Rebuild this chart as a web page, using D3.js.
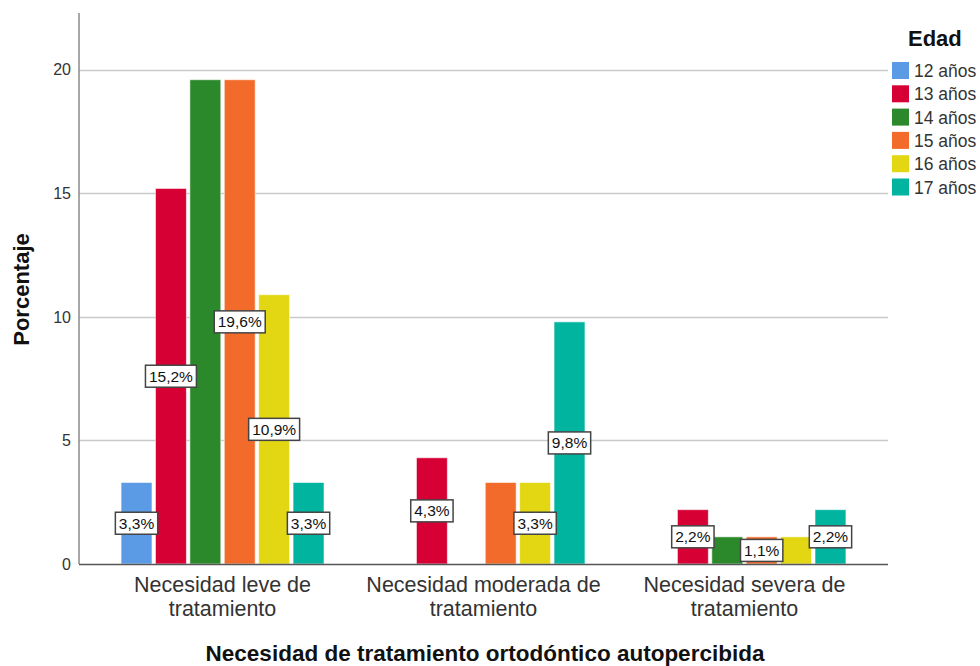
<!DOCTYPE html>
<html>
<head>
<meta charset="utf-8">
<script src="https://cdn.jsdelivr.net/npm/d3@7"></script>
<style>
  body { margin: 0; background: #fff; }
  text { font-family: "Liberation Sans", Arial, sans-serif; }
</style>
</head>
<body>
<svg id="chart"></svg>
<script>
var width = 980;
var height = 666;

var margin = {
    top: 13,
    right: 92,
    bottom: 102,
    left: 79
};

var chartBottom = height - margin.bottom;
var chartRight = width - margin.right;

// data
var categories = ["Necesidad leve de tratamiento", "Necesidad moderada de tratamiento", "Necesidad severa de tratamiento"];
var categoryLines = [["Necesidad leve de", "tratamiento"], ["Necesidad moderada de", "tratamiento"], ["Necesidad severa de", "tratamiento"]];
var ages = ["12 años", "13 años", "14 años", "15 años", "16 años", "17 años"];
var leve = [3.3, 15.2, 19.6, 19.6, 10.9, 3.3];
var moderada = [0, 4.3, 0, 3.3, 3.3, 9.8];
var severa = [0, 2.2, 1.1, 1.1, 1.1, 2.2];
var yTicks = [0, 5, 10, 15, 20];
var colors = ["#5b9be6", "#d60034", "#2b892b", "#f36b2b", "#e2d712", "#00b4a0"];

var seriesValues = [leve, moderada, severa];
var rows = [];
categories.forEach(function(c, i) {
    ages.forEach(function(a, j) {
        rows.push({ category: c, age: a, value: seriesValues[i][j] });
    });
});

var svg = d3.select("#chart")
    .attr("width", width)
    .attr("height", height);

var x0 = d3.scaleBand()
    .domain(categories)
    .range([margin.left, chartRight])
    .paddingInner(0)
    .paddingOuter(0.05);

var x1 = d3.scaleBand()
    .domain(ages)
    .range([29, x0.bandwidth() - 29])
    .paddingInner(0.1);

var yScale = d3.scaleLinear()
    .domain([0, 22.3])
    .range([chartBottom, margin.top]);

var color = d3.scaleOrdinal()
    .domain(ages)
    .range(colors);

// gridlines
svg.append("g")
    .selectAll("line")
    .data(yTicks.filter(function(d) { return d > 0; }))
    .enter().append("line")
    .attr("x1", margin.left)
    .attr("x2", chartRight)
    .attr("y1", function(d) { return Math.round(yScale(d)) + 0.5; })
    .attr("y2", function(d) { return Math.round(yScale(d)) + 0.5; })
    .attr("stroke", "#c9c9c9")
    .attr("stroke-width", 1.5);

// y-axis
var yAxis = svg.append("g")
    .attr("transform", "translate(" + margin.left + ",0)")
    .call(d3.axisLeft(yScale).tickValues(yTicks).tickSize(0).tickPadding(8));
yAxis.select(".domain").attr("stroke", "#8a8a8a").attr("stroke-width", 1.5)
    .attr("d", "M0," + margin.top + "V" + chartBottom);
yAxis.selectAll("text")
    .style("font-size", "16px")
    .style("fill", "#333")
    .style("font-family", "Liberation Sans, Arial, sans-serif");

// bars
svg.append("g").attr("id", "marks")
    .selectAll(".mark")
    .data(rows.filter(function(d) { return d.value > 0; }))
    .enter().append("rect")
    .attr("class", "mark")
    .attr("x", function(d) { return x0(d.category) + x1(d.age); })
    .attr("y", function(d) { return yScale(d.value); })
    .attr("width", x1.bandwidth())
    .attr("height", function(d) { return chartBottom - yScale(d.value); })
    .attr("fill", function(d) { return color(d.age); })
    .attr("stroke", "#fff")
    .attr("stroke-opacity", 0.6)
    .attr("stroke-width", 1);

// x-axis line
svg.append("line")
    .attr("x1", margin.left)
    .attr("x2", chartRight)
    .attr("y1", chartBottom + 0.5)
    .attr("y2", chartBottom + 0.5)
    .attr("stroke", "#555")
    .attr("stroke-width", 1.5);

// category labels, two lines each
categories.forEach(function(c, i) {
    var cx = x0(c) + x0.bandwidth() / 2;
    svg.append("g")
        .selectAll("text")
        .data(categoryLines[i])
        .enter().append("text")
        .attr("x", cx)
        .attr("y", function(d, k) { return chartBottom + 28 + k * 24; })
        .attr("text-anchor", "middle")
        .style("font-size", "21.5px")
        .style("fill", "#333")
        .text(function(d) { return d; });
});

// value labels, placed last to first, skip the ones that overlap
var labelGroup = svg.append("g").attr("id", "labels");
var placed = [];
rows.slice().reverse().forEach(function(d) {
    if (d.value <= 0) return;
    var cx = x0(d.category) + x1(d.age) + x1.bandwidth() / 2;
    var cy = (yScale(d.value) + chartBottom) / 2;
    var g = labelGroup.append("g");
    var txt = g.append("text")
        .attr("x", cx)
        .attr("y", cy + 5.5)
        .attr("text-anchor", "middle")
        .style("font-size", "15.5px")
        .style("fill", "#111")
        .text(d3.format(".1f")(d.value).replace(".", ",") + "%");
    var w = txt.node().getComputedTextLength() + 7;
    var h = 22;
    var box = { x: cx - w / 2, y: cy - h / 2, w: w, h: h };
    var hit = placed.some(function(p) {
        return box.x < p.x + p.w && p.x < box.x + box.w && box.y < p.y + p.h && p.y < box.y + box.h;
    });
    if (hit) { g.remove(); return; }
    placed.push(box);
    g.insert("rect", "text")
        .attr("x", box.x)
        .attr("y", box.y)
        .attr("width", box.w)
        .attr("height", box.h)
        .attr("fill", "#fff")
        .attr("stroke", "#444")
        .attr("stroke-width", 1.5);
});

// axis titles
svg.append("text")
    .attr("transform", "translate(29," + ((margin.top + chartBottom) / 2 + 1) + ") rotate(-90)")
    .attr("text-anchor", "middle")
    .style("font-size", "22px")
    .style("font-weight", "bold")
    .style("fill", "#111")
    .text("Porcentaje");

svg.append("text")
    .attr("x", 485)
    .attr("y", height - 5)
    .attr("text-anchor", "middle")
    .style("font-size", "22.5px")
    .style("font-weight", "bold")
    .style("fill", "#111")
    .text("Necesidad de tratamiento ortodóntico autopercibida");

// legend
var legend = svg.append("g").attr("transform", "translate(892,0)");
legend.append("text")
    .attr("x", 16)
    .attr("y", 46)
    .style("font-size", "22px")
    .style("font-weight", "bold")
    .style("fill", "#111")
    .text("Edad");

var items = legend.selectAll(".item")
    .data(ages)
    .enter().append("g")
    .attr("class", "item")
    .attr("transform", function(d, i) { return "translate(0," + (62 + i * 23.3) + ")"; });
items.append("rect")
    .attr("width", 17)
    .attr("height", 17)
    .attr("fill", function(d) { return color(d); });
items.append("text")
    .attr("x", 22)
    .attr("y", 15)
    .style("font-size", "17.5px")
    .style("fill", "#333")
    .text(function(d) { return d; });
</script>
</body>
</html>
